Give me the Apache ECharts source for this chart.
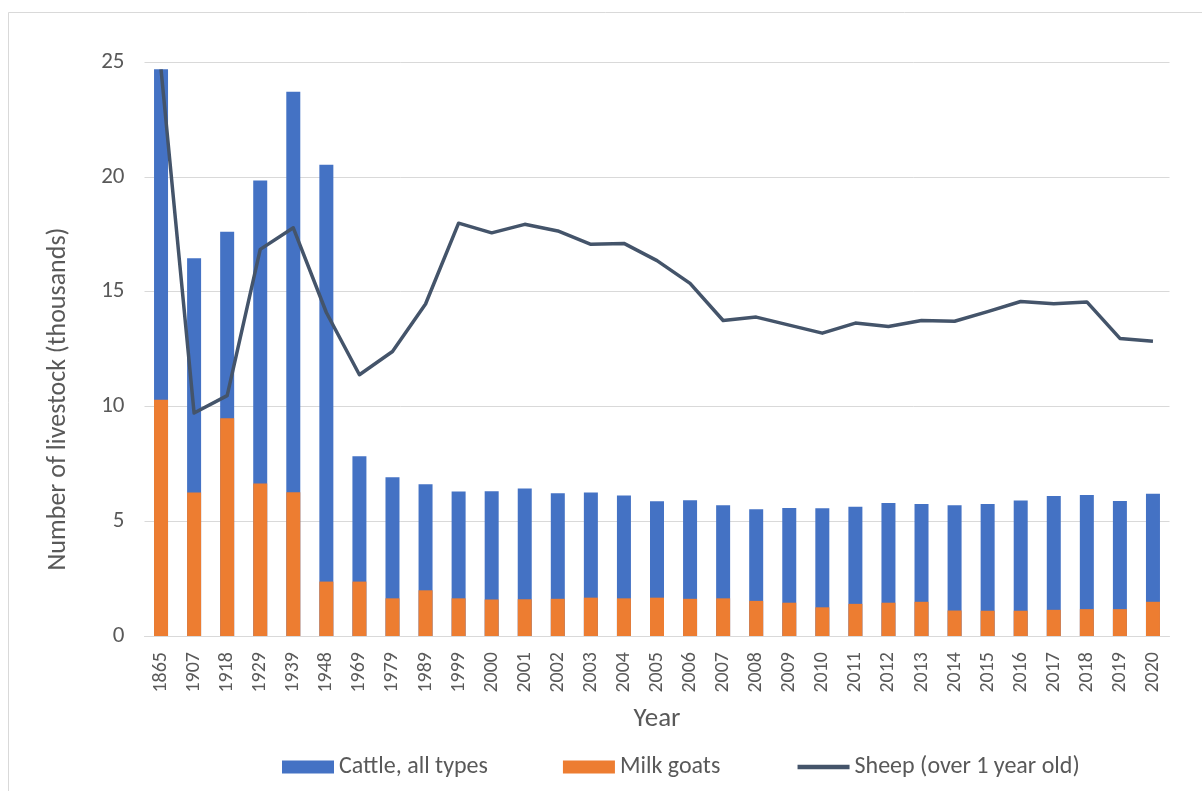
<!DOCTYPE html>
<html>
<head>
<meta charset="utf-8">
<title>Livestock numbers</title>
<script src="https://cdn.jsdelivr.net/npm/echarts@6/dist/echarts.min.js"></script>
<style>
  html, body { margin: 0; padding: 0; background: #ffffff; }
  #chart { width: 1202px; height: 791px; }
</style>
</head>
<body>
<div id="chart"></div>
<script>
// Survey years
const years = ['1865','1907','1918','1929','1939','1948','1969','1979','1989','1999',
  '2000','2001','2002','2003','2004','2005','2006','2007','2008','2009',
  '2010','2011','2012','2013','2014','2015','2016','2017','2018','2019','2020'];

// Thousands of animals
const cattle = [24.68, 16.45, 17.61, 19.84, 23.70, 20.52, 7.83, 6.91, 6.61, 6.29,
  6.30, 6.42, 6.22, 6.25, 6.12, 5.87, 5.91, 5.70, 5.52, 5.58,
  5.56, 5.63, 5.79, 5.75, 5.70, 5.75, 5.90, 6.10, 6.14, 5.88, 6.20];

const milkGoats = [10.29, 6.25, 9.48, 6.64, 6.26, 2.37, 2.37, 1.64, 1.99, 1.64,
  1.59, 1.60, 1.62, 1.67, 1.64, 1.67, 1.62, 1.64, 1.53, 1.45,
  1.25, 1.40, 1.45, 1.49, 1.11, 1.10, 1.10, 1.14, 1.17, 1.17, 1.49];

const sheep = [24.68, 9.71, 10.47, 16.84, 17.78, 14.09, 11.38, 12.39, 14.46, 17.98,
  17.56, 17.93, 17.64, 17.06, 17.10, 16.35, 15.36, 13.74, 13.89, 13.54,
  13.19, 13.63, 13.48, 13.74, 13.71, 14.13, 14.57, 14.47, 14.55, 12.96, 12.84];

const yTicks = { min: 0, max: 25, interval: 5 };

const FONT = 'Carlito, Calibri, Lato, "Open Sans", sans-serif';
const TEXT = '#595959';

const chart = echarts.init(document.getElementById('chart'), null, { renderer: 'canvas' });

chart.setOption({
  backgroundColor: '#ffffff',
  animation: false,
  graphic: [{
    type: 'rect',
    silent: true,
    shape: { x: 8.5, y: 12.5, width: 1210, height: 800 },
    style: { fill: 'none', stroke: '#d9d9d9', lineWidth: 1 }
  }],
  grid: { left: 144.5, right: 32.5, top: 62, bottom: 155 },
  legend: {
    left: 277,
    top: 750,
    itemGap: 75,
    itemWidth: 52,
    itemHeight: 13,
    textStyle: { color: TEXT, fontSize: 24, fontFamily: FONT },
    data: [
      { name: 'Cattle, all types', icon: 'rect' },
      { name: 'Milk goats', icon: 'rect' },
      {
        name: 'Sheep (over 1 year old)',
        itemStyle: { color: 'rgba(0,0,0,0)', borderWidth: 0 },
        lineStyle: { width: 4.5 }
      }
    ]
  },
  xAxis: {
    type: 'category',
    data: years,
    name: 'Year',
    nameLocation: 'middle',
    nameGap: 70,
    nameTextStyle: { color: TEXT, fontSize: 27, fontFamily: FONT },
    axisLine: { lineStyle: { color: '#d9d9d9', width: 1 } },
    axisTick: { show: false },
    axisLabel: { rotate: 90, color: TEXT, fontSize: 20, fontFamily: FONT, margin: 16, interval: 0 }
  },
  yAxis: {
    type: 'value',
    min: yTicks.min,
    max: yTicks.max,
    interval: yTicks.interval,
    name: 'Number of livestock (thousands)',
    nameLocation: 'middle',
    nameGap: 73,
    nameTextStyle: { color: TEXT, fontSize: 26, fontFamily: FONT, padding: [0, 100, 0, 0] },
    axisLine: { show: false },
    axisTick: { show: false },
    axisLabel: { color: TEXT, fontSize: 23, fontFamily: FONT, margin: 20 },
    splitLine: { lineStyle: { color: '#d9d9d9', width: 1 } }
  },
  series: [
    {
      name: 'Cattle, all types',
      type: 'bar',
      data: cattle,
      barWidth: 14,
      barGap: '-100%',
      itemStyle: { color: '#4472C4' },
      z: 2
    },
    {
      name: 'Milk goats',
      type: 'bar',
      data: milkGoats,
      barWidth: 14,
      barGap: '-100%',
      itemStyle: { color: '#ED7D31' },
      z: 3
    },
    {
      name: 'Sheep (over 1 year old)',
      type: 'line',
      data: sheep,
      symbol: 'none',
      lineStyle: { color: '#44546A', width: 3.5, join: 'round' },
      itemStyle: { color: '#44546A' },
      z: 5
    }
  ]
});
</script>
</body>
</html>
